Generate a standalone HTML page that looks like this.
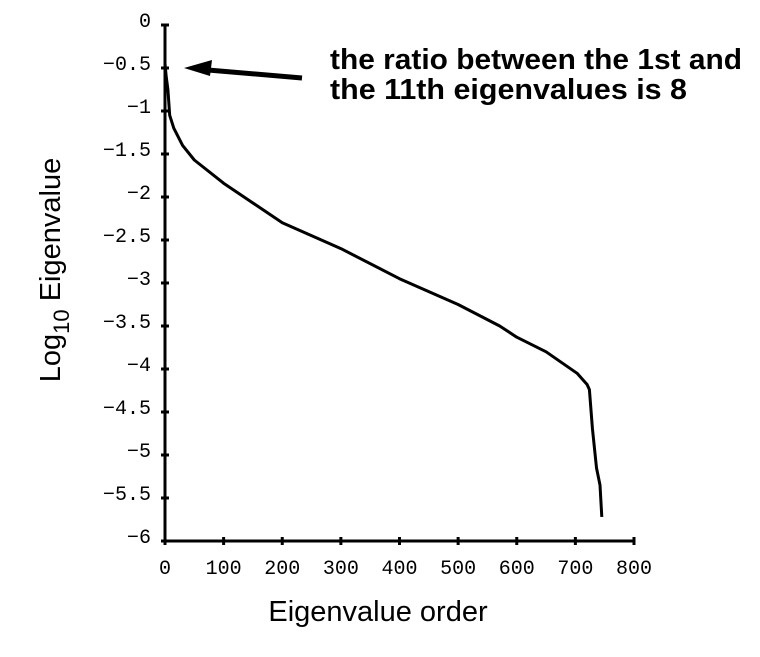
<!DOCTYPE html>
<html><head><meta charset="utf-8"><style>
body{margin:0;background:#fff;}
svg text{fill:#000}
</style></head><body>
<svg width="760" height="652" xmlns="http://www.w3.org/2000/svg">
<g id="axes"></g>
<g id="plot"></g>
<text x="378" y="621" text-anchor="middle" font-family="Liberation Sans, sans-serif" font-size="29">Eigenvalue order</text>
<text transform="translate(60,270) rotate(-90)" text-anchor="middle" font-family="Liberation Sans, sans-serif" font-size="29">Log<tspan font-size="22" dy="9">10</tspan><tspan dy="-9"> Eigenvalue</tspan></text>
<g>
<text x="330" y="69" font-family="Liberation Sans, sans-serif" font-size="29" font-weight="bold" textLength="412" lengthAdjust="spacingAndGlyphs">the ratio between the 1st and</text>
<text x="330" y="99" font-family="Liberation Sans, sans-serif" font-size="29" font-weight="bold" textLength="357" lengthAdjust="spacingAndGlyphs">the 11th eigenvalues is 8</text>
<line x1="302" y1="78" x2="208" y2="70" stroke="#000" stroke-width="5"/>
<polygon points="184,68 212,60 210,76" fill="#000"/>
</g>
</svg>
<script>
const orders=[0,2,5,8,15,30,50,100,150,200,300,400,500,571,600,650,703,720,724,729,736,742,745];
const logVals=[-0.45,-0.6,-0.75,-1.05,-1.2,-1.4,-1.57,-1.84,-2.07,-2.3,-2.6,-2.95,-3.25,-3.5,-3.63,-3.8,-4.05,-4.18,-4.24,-4.69,-5.15,-5.35,-5.72];
const xTicks=[0,100,200,300,400,500,600,700,800];
const yTicks=[0,-0.5,-1,-1.5,-2,-2.5,-3,-3.5,-4,-4.5,-5,-5.5,-6];
const NS="http://www.w3.org/2000/svg";
const X0=165,X1=634,Y0=25,Y1=541;
function sx(v){return X0+(v/800)*(X1-X0);}
function sy(v){return Y0+(-v/6)*(Y1-Y0);}
function mk(t,a){const e=document.createElementNS(NS,t);for(const k in a)e.setAttribute(k,a[k]);return e;}
const axes=document.getElementById('axes');
const ya=mk('line',{x1:X0,y1:Y0,x2:X0,y2:Y1,stroke:'#000','stroke-width':3});


axes.appendChild(ya);
const xa=mk('line',{x1:X0,y1:Y1,x2:X1,y2:Y1,stroke:'#000','stroke-width':3});


axes.appendChild(xa);
xTicks.forEach(v=>{
 const t=mk('line',{x1:sx(v),y1:Y1-4,x2:sx(v),y2:Y1+4,stroke:'#000','stroke-width':3});
 
 
 axes.appendChild(t);
 const l=mk('text',{x:sx(v),y:Y1+33,'text-anchor':'middle','font-family':'Liberation Mono, monospace','font-size':20});
 
 
 l.textContent=v;axes.appendChild(l);
});
yTicks.forEach(v=>{
 const t=mk('line',{x1:X0-4,y1:sy(v),x2:X0+4,y2:sy(v),stroke:'#000','stroke-width':3});
 
 
 axes.appendChild(t);
 const l=mk('text',{x:X0-14,y:sy(v)+2,'text-anchor':'end','font-family':'Liberation Mono, monospace','font-size':20});
 
 
 l.textContent=(v===0?'0':String(v).replace('-','\u2212'));axes.appendChild(l);
});
const d=orders.map((o,i)=>(i?'L':'M')+sx(o).toFixed(1)+','+sy(logVals[i]).toFixed(1)).join(' ');
const p=mk('path',{d:d,fill:'none',stroke:'#000','stroke-width':3,'stroke-linejoin':'round'});


document.getElementById('plot').appendChild(p);
</script>
</body></html>
